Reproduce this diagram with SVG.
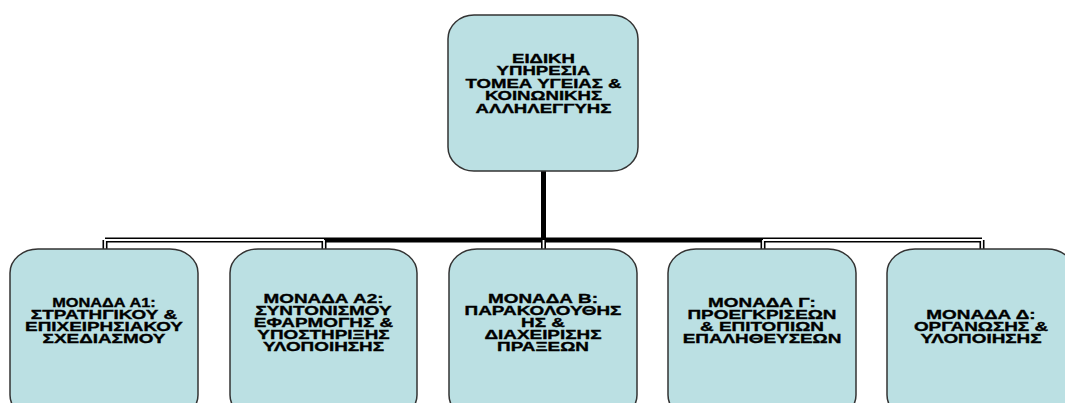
<svg xmlns="http://www.w3.org/2000/svg" width="1065" height="403" viewBox="0 0 1065 403">
<style>
.box{fill:#BBE0E3;stroke:#333;stroke-width:1.5}
.t{font-family:"Liberation Sans",Arial,sans-serif;font-weight:bold;font-size:13.5px;fill:#000;stroke:#000;stroke-width:0.35;text-anchor:middle}
.blk{fill:none;stroke:#000;stroke-width:5}
.wht{fill:none;stroke:#fff;stroke-width:1.8}
</style>
<rect width="1065" height="403" fill="#fff"/>
<g id="connectors">
<path class="blk" d="M543.5,171 V240 M105,240 H982 M105,240 V249 M324,240 V249 M543.5,240 V249 M763,240 V249 M982,240 V249"/>
<path class="wht" d="M105,249 V240 H324 M324,240 V249 M543.5,240 V249 M763,240 V249 M763,240 H982 V249"/>
</g>
<g id="top">
<rect class="box" x="448" y="15" width="190" height="156" rx="26" ry="24"/>
<g class="t" transform="translate(543.5,0) scale(1.38,1)">
<text x="0" y="63">ΕΙΔΙΚΗ</text>
<text x="0" y="75.5">ΥΠΗΡΕΣΙΑ</text>
<text x="0" y="88">ΤΟΜΕΑ ΥΓΕΙΑΣ &amp;</text>
<text x="0" y="100.5">ΚΟΙΝΩΝΙΚΗΣ</text>
<text x="0" y="113">ΑΛΛΗΛΕΓΓΥΗΣ</text>
</g>
</g>
<g id="a1">
<rect class="box" x="10" y="249" width="188" height="170" rx="28" ry="24"/>
<g class="t" transform="translate(104,0) scale(1.4,1)">
<text x="0" y="307" textLength="74" lengthAdjust="spacingAndGlyphs">ΜΟΝΑΔΑ Α1:</text>
<text x="0" y="319">ΣΤΡΑΤΗΓΙΚΟΥ &amp;</text>
<text x="0" y="331">ΕΠΙΧΕΙΡΗΣΙΑΚΟΥ</text>
<text x="0" y="343">ΣΧΕΔΙΑΣΜΟΥ</text>
</g>
</g>
<g id="a2">
<rect class="box" x="230" y="249" width="187" height="170" rx="28" ry="24"/>
<g class="t" transform="translate(323.5,0) scale(1.4,1)">
<text x="0" y="303">ΜΟΝΑΔΑ Α2:</text>
<text x="0" y="315">ΣΥΝΤΟΝΙΣΜΟΥ</text>
<text x="0" y="327">ΕΦΑΡΜΟΓΗΣ &amp;</text>
<text x="0" y="339">ΥΠΟΣΤΗΡΙΞΗΣ</text>
<text x="0" y="351">ΥΛΟΠΟΙΗΣΗΣ</text>
</g>
</g>
<g id="b">
<rect class="box" x="449" y="249" width="188" height="170" rx="28" ry="24"/>
<g class="t" transform="translate(543,0) scale(1.4,1)">
<text x="0" y="303">ΜΟΝΑΔΑ Β:</text>
<text x="0" y="315">ΠΑΡΑΚΟΛΟΥΘΗΣ</text>
<text x="0" y="327">ΗΣ &amp;</text>
<text x="0" y="339">ΔΙΑΧΕΙΡΙΣΗΣ</text>
<text x="0" y="351">ΠΡΑΞΕΩΝ</text>
</g>
</g>
<g id="g">
<rect class="box" x="668" y="249" width="188" height="170" rx="28" ry="24"/>
<g class="t" transform="translate(762,0) scale(1.4,1)">
<text x="0" y="307">ΜΟΝΑΔΑ Γ:</text>
<text x="0" y="319">ΠΡΟΕΓΚΡΙΣΕΩΝ</text>
<text x="0" y="331">&amp; ΕΠΙΤΟΠΙΩΝ</text>
<text x="0" y="343">ΕΠΑΛΗΘΕΥΣΕΩΝ</text>
</g>
</g>
<g id="d">
<rect class="box" x="887" y="249" width="188" height="170" rx="28" ry="24"/>
<g class="t" transform="translate(981,0) scale(1.4,1)">
<text x="0" y="319">ΜΟΝΑΔΑ Δ:</text>
<text x="0" y="331">ΟΡΓΑΝΩΣΗΣ &amp;</text>
<text x="0" y="343">ΥΛΟΠΟΙΗΣΗΣ</text>
</g>
</g>
</svg>
